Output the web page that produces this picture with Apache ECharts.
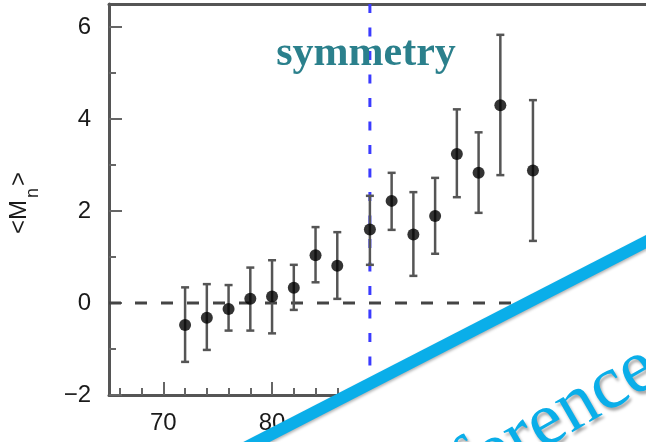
<!DOCTYPE html>
<html>
<head>
<meta charset="utf-8">
<script src="https://cdn.jsdelivr.net/npm/echarts@6/dist/echarts.min.js"></script>
<style>
  html, body { margin: 0; padding: 0; background: #fff; }
  #chart { width: 646px; height: 442px; }
</style>
</head>
<body>
<div id="chart"></div>
<script>
// Measurement bins and mean <M_n> with asymmetric uncertainty range
const binCenters = [72, 74, 76, 78, 80, 82, 84, 86, 89, 91, 93, 95, 97, 99, 101, 104];
const meanValues = [-0.48, -0.32, -0.13, 0.09, 0.14, 0.33, 1.04, 0.81, 1.60, 2.22, 1.49, 1.89, 3.24, 2.83, 4.30, 2.88];
const upperValues = [0.34, 0.41, 0.39, 0.77, 0.93, 0.83, 1.65, 1.54, 2.33, 2.83, 2.41, 2.72, 4.21, 3.71, 5.83, 4.41];
const lowerValues = [-1.28, -1.02, -0.60, -0.60, -0.66, -0.15, 0.45, 0.09, 0.83, 1.59, 0.59, 1.07, 2.30, 1.96, 2.78, 1.35];

// Axis ranges and tick values
const xMin = 65;
const xMax = 114.4;
const yMin = -2;
const yMax = 6.5;
const xMajorTicks = [70, 80, 90, 100, 110];
const xMinorTicks = [66, 68, 72, 74, 76, 78, 82, 84, 86, 88, 92, 94, 96, 98, 102, 104, 106, 108, 112, 114];
const yMajorTicks = [-2, 0, 2, 4, 6];
const yMinorTicks = [-1, 1, 3, 5];

// Reference lines
const symmetryX = 89;
const baselineY = 0;

const axisColor = '#555';
const tickColor = '#666';
const labelFont = 'Liberation Sans';

const chart = echarts.init(document.getElementById('chart'), null, { renderer: 'canvas' });

function minusFormatter(v) {
  return v < 0 ? '\u2212' + Math.abs(v) : String(v);
}

// y-axis title "<M_n>" assembled from pieces so the subscript can be smaller and lowered
const titleFont = '24px "Liberation Sans"';
const subFont = '18px "Liberation Sans"';
const subGap = 2;
const measureCtx = document.createElement('canvas').getContext('2d');
function textWidth(t, font) { measureCtx.font = font; return measureCtx.measureText(t).width; }
const wLeft = textWidth('<M', titleFont);
const wSub = textWidth('n', subFont) + 2 * subGap;
const wRight = textWidth('>', titleFont);
const titleStart = -(wLeft + wSub + wRight) / 2;

const option = {
  backgroundColor: '#fff',
  animation: false,
  grid: { left: 109, right: 0, top: 4, bottom: 47, containLabel: false, outerBoundsMode: 'none' },
  xAxis: [
    {
      type: 'value', position: 'bottom', min: xMin, max: xMax,
      axisLine: { show: true, onZero: false, lineStyle: { color: axisColor, width: 3 } },
      axisTick: { show: true, inside: true, length: 13, customValues: xMajorTicks, lineStyle: { color: tickColor, width: 2 } },
      axisLabel: { show: true, customValues: xMajorTicks, margin: 16, fontSize: 24, color: '#1a1a1a', fontFamily: labelFont },
      splitLine: { show: false }
    },
    {
      type: 'value', position: 'bottom', min: xMin, max: xMax,
      axisLine: { show: false, onZero: false },
      axisTick: { show: true, inside: true, length: 7, customValues: xMinorTicks, lineStyle: { color: tickColor, width: 2 } },
      axisLabel: { show: false },
      splitLine: { show: false }
    },
    {
      type: 'value', position: 'top', min: xMin, max: xMax,
      axisLine: { show: true, onZero: false, lineStyle: { color: axisColor, width: 3 } },
      axisTick: { show: false },
      axisLabel: { show: false },
      splitLine: { show: false }
    }
  ],
  yAxis: [
    {
      type: 'value', position: 'left', min: yMin, max: yMax, interval: 2,
      axisLine: { show: true, onZero: false, lineStyle: { color: axisColor, width: 3 } },
      axisTick: { show: true, inside: true, length: 13, customValues: yMajorTicks, lineStyle: { color: tickColor, width: 2 } },
      axisLabel: { show: true, customValues: yMajorTicks, margin: 18, fontSize: 24, color: '#1a1a1a', fontFamily: labelFont, formatter: minusFormatter },
      splitLine: { show: false }
    },
    {
      type: 'value', position: 'left', min: yMin, max: yMax, interval: 2,
      axisLine: { show: false, onZero: false },
      axisTick: { show: true, inside: true, length: 7, customValues: yMinorTicks, lineStyle: { color: tickColor, width: 2 } },
      axisLabel: { show: false },
      splitLine: { show: false }
    }
  ],
  series: [
    {
      name: 'zero',
      type: 'line',
      xAxisIndex: 0, yAxisIndex: 0,
      data: [[xMin, baselineY], [xMax, baselineY]],
      symbol: 'none',
      silent: true,
      lineStyle: { color: '#444', width: 3, type: [12, 14] },
      z: 1
    },
    {
      name: 'symmetry',
      type: 'line',
      xAxisIndex: 0, yAxisIndex: 0,
      data: [[symmetryX, yMax], [symmetryX, yMin]],
      symbol: 'none',
      silent: true,
      lineStyle: { color: '#3b3bff', width: 3, type: [9, 14.5] },
      z: 2
    },
    {
      name: 'range',
      type: 'custom',
      xAxisIndex: 0, yAxisIndex: 0,
      data: binCenters.map((x, i) => [x, lowerValues[i], upperValues[i]]),
      encode: { x: 0, y: [1, 2] },
      renderItem: function (params, api) {
        const x = api.value(0);
        const lo = api.coord([x, api.value(1)]);
        const hi = api.coord([x, api.value(2)]);
        const cap = 4;
        const style = { stroke: '#555', lineWidth: 2.5 };
        return {
          type: 'group',
          children: [
            { type: 'line', shape: { x1: lo[0], y1: lo[1], x2: hi[0], y2: hi[1] }, style: style },
            { type: 'line', shape: { x1: lo[0] - cap, y1: lo[1], x2: lo[0] + cap, y2: lo[1] }, style: style },
            { type: 'line', shape: { x1: hi[0] - cap, y1: hi[1], x2: hi[0] + cap, y2: hi[1] }, style: style }
          ]
        };
      },
      z: 3
    },
    {
      name: 'mean',
      type: 'scatter',
      xAxisIndex: 0, yAxisIndex: 0,
      data: binCenters.map((x, i) => [x, meanValues[i]]),
      symbol: 'circle',
      symbolSize: 12,
      itemStyle: { color: '#000' },
      z: 4
    }
  ],
  graphic: [
    {
      // y-axis title, rotated to read bottom-to-top
      type: 'group',
      x: 19, y: 203,
      rotation: Math.PI / 2,
      z: 50,
      children: [
        { type: 'text', x: titleStart, y: 0, style: { text: '<M', font: titleFont, fill: '#1a1a1a', align: 'left', verticalAlign: 'middle', textAlign: 'left', textVerticalAlign: 'middle' } },
        { type: 'text', x: titleStart + wLeft + subGap, y: 14, style: { text: 'n', font: subFont, fill: '#1a1a1a', align: 'left', verticalAlign: 'middle', textAlign: 'left', textVerticalAlign: 'middle' } },
        { type: 'text', x: titleStart + wLeft + wSub, y: 0, style: { text: '>', font: titleFont, fill: '#1a1a1a', align: 'left', verticalAlign: 'middle', textAlign: 'left', textVerticalAlign: 'middle' } }
      ]
    },
    {
      type: 'text',
      x: 366, y: 54,
      z: 50,
      style: {
        text: 'symmetry',
        font: 'bold 42px "Liberation Serif"',
        fill: '#2b808c',
        align: 'center', verticalAlign: 'middle',
        textAlign: 'center', textVerticalAlign: 'middle'
      }
    },
    {
      type: 'polygon',
      z: 100,
      shape: { points: [[200, 471], [700, 214], [700, 500], [200, 500]] },
      style: { fill: '#fff' }
    },
    {
      type: 'line',
      z: 101,
      shape: { x1: 200, y1: 471, x2: 700, y2: 214 },
      style: { stroke: '#0aaee9', lineWidth: 12, shadowBlur: 3, shadowColor: 'rgba(0,0,0,0.3)', shadowOffsetY: 2 }
    },
    {
      type: 'text',
      x: 652, y: 363,
      rotation: 30 * Math.PI / 180,
      z: 101,
      style: {
        text: 'reference',
        font: '76px "Liberation Serif"',
        fill: '#0aaee9',
        align: 'right', verticalAlign: 'middle',
        textAlign: 'right', textVerticalAlign: 'middle',
        textShadowColor: 'rgba(0,0,0,0.35)', textShadowBlur: 3, textShadowOffsetX: 2, textShadowOffsetY: 3
      }
    }
  ]
};

chart.setOption(option);
</script>
</body>
</html>
